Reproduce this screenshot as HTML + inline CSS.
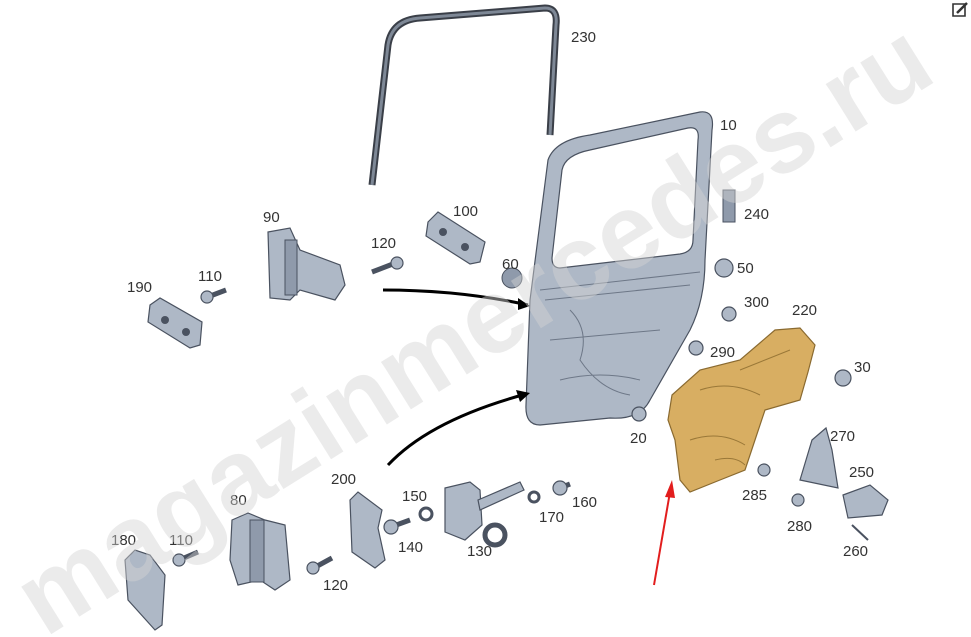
<!DOCTYPE html>
<html><head><meta charset="utf-8"><style>
html,body{margin:0;padding:0;background:#fff;width:971px;height:637px;overflow:hidden}
svg{display:block}
text{font-family:"Liberation Sans",Arial,sans-serif;font-size:15px;fill:#333}
.p{fill:#aeb8c6;stroke:#4a5260;stroke-width:1.2}
.d{fill:#8f9aab;stroke:#4a5260;stroke-width:1}
.g{fill:#d8ae62;stroke:#8a6a30;stroke-width:1.2}
.wm{font-family:"Liberation Sans",Arial,sans-serif;font-size:106px;font-weight:bold;fill:#d4d4d4;opacity:.45}
</style></head><body>
<svg width="971" height="637" viewBox="0 0 971 637" overflow="hidden">
<path d="M372,185 L388,45 Q392,20 420,18 L545,8 Q558,8 556,25 L550,135" fill="none" stroke="#3a3f48" stroke-width="7" stroke-linejoin="round"/>
<path d="M372,185 L388,45 Q392,20 420,18 L545,8 Q558,8 556,25 L550,135" fill="none" stroke="#7e8896" stroke-width="3"/>
<path class="p" d="M548,160 Q555,140 590,135 L700,112 Q715,110 712,130 L705,260 Q705,300 690,330 L650,400 Q640,420 610,418 L540,425 Q525,425 526,405 L530,300 Z"/>
<path fill="#fff" stroke="#4a5260" stroke-width="1.2" d="M562,170 Q565,155 590,150 L688,128 Q700,126 698,140 L693,240 Q693,252 680,254 L560,268 Q552,268 552,258 Z"/>
<path fill="none" stroke="#6d7787" stroke-width="1" d="M545,300 L690,285 M550,340 L660,330 M560,380 Q600,370 640,380 M570,310 Q590,330 580,360 Q600,390 630,395 M540,290 L700,272"/>
<rect x="723" y="190" width="12" height="32" class="d" transform="skew(0,-10)"/>
<ellipse cx="724" cy="268" rx="9" ry="9" class="p"/>
<ellipse cx="512" cy="278" rx="10" ry="10" class="d"/>
<path class="p" d="M428,222 L438,212 L485,242 L480,262 L470,264 L426,236 Z"/>
<circle cx="443" cy="232" r="4" fill="#4a5260"/><circle cx="465" cy="247" r="4" fill="#4a5260"/>
<path class="p" d="M268,232 L290,228 L300,250 L340,265 L345,285 L335,300 L300,290 L290,300 L270,298 Z"/>
<rect x="285" y="240" width="12" height="55" class="d"/>
<path d="M372,272 L398,262" stroke="#4a5260" stroke-width="5"/><circle cx="397" cy="263" r="6" class="p"/>
<path d="M205,298 L226,290" stroke="#4a5260" stroke-width="5"/><circle cx="207" cy="297" r="6" class="p"/>
<path d="M177,561 L198,552" stroke="#4a5260" stroke-width="5"/><circle cx="179" cy="560" r="6" class="p"/>
<path d="M310,570 L332,558" stroke="#4a5260" stroke-width="5"/><circle cx="313" cy="568" r="6" class="p"/>
<path d="M388,528 L410,520" stroke="#4a5260" stroke-width="5"/><circle cx="391" cy="527" r="7" class="p"/>
<circle cx="426" cy="514" r="6" fill="#fff" stroke="#4a5260" stroke-width="3"/>
<circle cx="534" cy="497" r="5" fill="#fff" stroke="#4a5260" stroke-width="3"/>
<path d="M555,490 L570,484" stroke="#4a5260" stroke-width="5"/><circle cx="560" cy="488" r="7" class="p"/>
<path class="p" d="M150,305 L160,298 L202,322 L200,345 L190,348 L148,322 Z"/>
<circle cx="165" cy="320" r="4" fill="#4a5260"/><circle cx="186" cy="332" r="4" fill="#4a5260"/>
<path d="M383,290 Q460,290 528,305" fill="none" stroke="#000" stroke-width="3"/>
<path d="M530,306 L518,298 L518,310 Z" fill="#000"/>
<path d="M388,465 Q430,420 526,394" fill="none" stroke="#000" stroke-width="3"/>
<path d="M530,393 L516,390 L520,402 Z" fill="#000"/>
<path class="p" d="M232,520 L248,513 L265,520 L285,525 L290,580 L275,590 L260,580 L238,585 L230,560 Z"/>
<rect x="250" y="520" width="14" height="62" class="d"/>
<path class="p" d="M125,560 L135,550 L150,555 L165,575 L162,625 L155,630 L128,600 Z"/>
<path class="p" d="M350,500 L358,492 L382,510 L378,528 L385,560 L375,568 L352,552 Z"/>
<path class="p" d="M445,488 L470,482 L480,490 L482,525 L465,540 L445,532 Z"/>
<path class="p" d="M478,500 L520,482 L524,490 L480,510 Z"/>
<circle cx="495" cy="535" r="10" fill="none" stroke="#4a5260" stroke-width="5"/>
<path class="g" d="M672,395 L700,370 L740,360 L775,330 L800,328 L815,345 L808,372 L800,400 L765,410 L755,440 L745,470 L720,480 L690,492 L680,480 L675,440 L668,420 Z"/>
<path fill="none" stroke="#9a7838" stroke-width="1" d="M690,440 Q720,430 745,445 M700,390 Q730,380 760,395 M715,460 Q735,455 745,465 M740,370 L790,350"/>
<circle cx="729" cy="314" r="7" class="p"/><circle cx="696" cy="348" r="7" class="p"/>
<circle cx="843" cy="378" r="8" class="p"/><circle cx="639" cy="414" r="7" class="p"/>
<circle cx="764" cy="470" r="6" class="p"/><circle cx="798" cy="500" r="6" class="p"/>
<path class="p" d="M812,440 L826,428 L832,450 L838,488 L800,480 Z"/>
<path class="p" d="M843,495 L870,485 L888,500 L882,515 L848,518 Z"/>
<path d="M852,525 L868,540" stroke="#4a5260" stroke-width="2"/>
<path d="M654,585 L670,492" stroke="#e21d1d" stroke-width="2"/>
<path d="M672,480 L665,497 L675,498 Z" fill="#e21d1d"/>
<path d="M953,4 L965,4 L965,16 L953,16 Z" fill="none" stroke="#333" stroke-width="1.6"/>
<path d="M957,13 L967,3" stroke="#333" stroke-width="2.5"/>
<text x="571" y="42">230</text><text x="720" y="130">10</text><text x="744" y="219">240</text>
<text x="453" y="216">100</text><text x="263" y="222">90</text><text x="371" y="248">120</text>
<text x="502" y="269">60</text><text x="737" y="273">50</text><text x="198" y="281">110</text>
<text x="127" y="292">190</text><text x="744" y="307">300</text><text x="792" y="315">220</text>
<text x="710" y="357">290</text><text x="854" y="372">30</text><text x="830" y="441">270</text>
<text x="630" y="443">20</text><text x="849" y="477">250</text><text x="331" y="484">200</text>
<text x="402" y="501">150</text><text x="572" y="507">160</text><text x="742" y="500">285</text>
<text x="230" y="505">80</text><text x="539" y="522">170</text><text x="787" y="531">280</text>
<text x="111" y="545">180</text><text x="169" y="545">110</text><text x="398" y="552">140</text>
<text x="467" y="556">130</text><text x="843" y="556">260</text><text x="323" y="590">120</text>
<text class="wm" x="0" y="0" transform="translate(45,638) rotate(-32)">magazinmercedes.ru</text>
</svg>
</body></html>
